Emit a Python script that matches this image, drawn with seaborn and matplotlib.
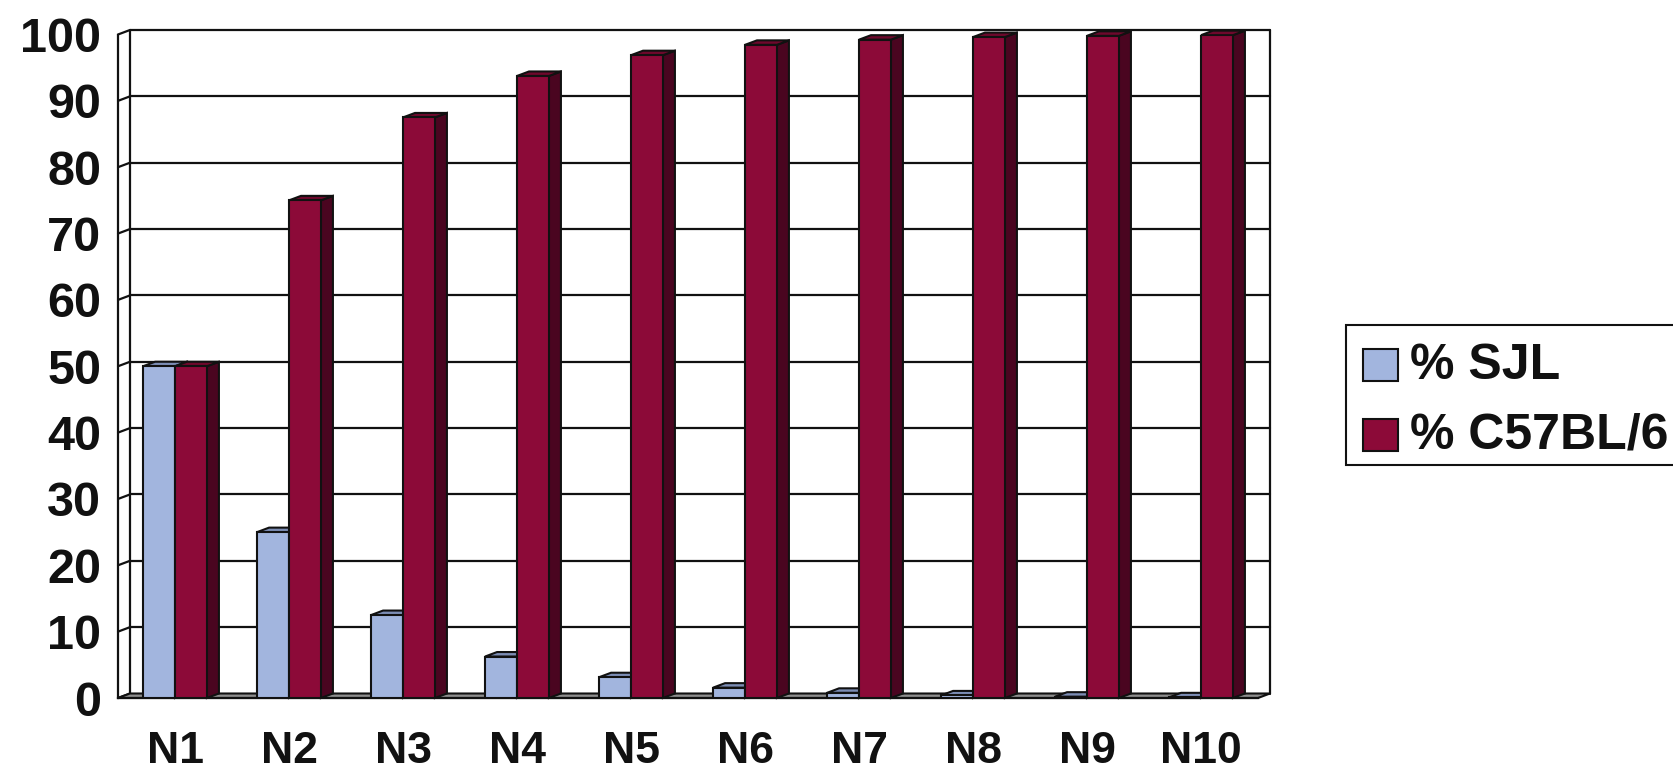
import numpy as np
import pandas as pd
import matplotlib
matplotlib.use("Agg")
import matplotlib.pyplot as plt
from matplotlib.patches import Polygon, Rectangle
import seaborn as sns

# ---- data ----
generations = ["N1", "N2", "N3", "N4", "N5", "N6", "N7", "N8", "N9", "N10"]
pct_sjl = [50, 25, 12.5, 6.25, 3.13, 1.56, 0.78, 0.39, 0.2, 0.1]
pct_c57 = [50, 75, 87.5, 93.75, 96.88, 98.44, 99.22, 99.61, 99.8, 99.9]
strains = ["% SJL", "% C57BL/6"]
y_ticks = [0, 10, 20, 30, 40, 50, 60, 70, 80, 90, 100]

front_cols = ["#A2B5DE", "#8C0A38"]
top_cols = ["#7C8DB5", "#6E082C"]
side_cols = ["#5E6E92", "#4A0520"]
EDGE = "#111111"

df = pd.DataFrame({
    "gen": generations * 2,
    "pct": pct_sjl + pct_c57,
    "strain": [strains[0]] * len(generations) + [strains[1]] * len(generations),
})

sns.set_style("white")
plt.rcParams["font.family"] = ["Liberation Sans", "DejaVu Sans"]
plt.rcParams["font.weight"] = "bold"

W, H = 1673, 770
fig = plt.figure(figsize=(W / 100, H / 100), dpi=100)
ax = fig.add_axes([118 / W, 1 - 698 / H, 1140 / W, (698 - 34.5) / H])
ax.set_facecolor("none")

sns.barplot(data=df, x="gen", y="pct", hue="strain", palette=front_cols,
            width=0.56, gap=0, saturation=1, edgecolor=EDGE, linewidth=1.5,
            legend=False, ax=ax, zorder=5, errorbar=None)

ax.set_xlim(-0.5, 9.5)
ax.set_ylim(0, 100)

# depth offset in data units
DX = 12 / 114
DY = 4.5 * 100 / 663.5

# floor
floor = Polygon([(-0.5, 0), (9.5, 0), (9.5 + DX, DY), (-0.5 + DX, DY)],
                closed=True, facecolor="#8E8E8E", edgecolor=EDGE, lw=1.5,
                zorder=2, clip_on=False)
ax.add_patch(floor)

# back wall gridlines and frame
for v in y_ticks[1:]:
    ax.plot([-0.5 + DX, 9.5 + DX], [v + DY, v + DY], color=EDGE, lw=1.6,
            zorder=1, clip_on=False)
ax.plot([-0.5 + DX, -0.5 + DX], [DY, 100 + DY], color=EDGE, lw=1.6, zorder=1, clip_on=False)
ax.plot([9.5 + DX, 9.5 + DX], [DY, 100 + DY], color=EDGE, lw=1.6, zorder=1, clip_on=False)
# left side wall connectors
for v in y_ticks:
    ax.plot([-0.5, -0.5 + DX], [v, v + DY], color=EDGE, lw=1.6, zorder=1, clip_on=False)

# 3-D faces for bars
for k, cont in enumerate(ax.containers):
    for bar in cont:
        x0 = bar.get_x()
        x1 = x0 + bar.get_width()
        y = bar.get_height()
        top = Polygon([(x0, y), (x1, y), (x1 + DX, y + DY), (x0 + DX, y + DY)],
                      closed=True, facecolor=top_cols[k], edgecolor=EDGE, lw=1.5,
                      zorder=4, clip_on=False)
        side = Polygon([(x1, 0), (x1 + DX, DY), (x1 + DX, y + DY), (x1, y)],
                       closed=True, facecolor=side_cols[k], edgecolor=EDGE, lw=1.5,
                       zorder=4 - 0.5 * (k == 0), clip_on=False)
        ax.add_patch(side)
        ax.add_patch(top)

# axes styling
for s in ["top", "right"]:
    ax.spines[s].set_visible(False)
ax.spines["left"].set_color(EDGE)
ax.spines["left"].set_linewidth(1.6)
ax.spines["bottom"].set_color(EDGE)
ax.spines["bottom"].set_linewidth(1.6)
ax.spines["left"].set_zorder(6)

ax.set_yticks(y_ticks)
ax.set_yticklabels([str(v) for v in y_ticks])
ax.tick_params(axis="y", direction="out", length=7.2, width=1.6, color=EDGE,
               labelsize=35, pad=5, labelcolor=EDGE)
ax.set_xticks(range(len(generations)))
ax.set_xticklabels(generations)
ax.set_xticks(np.arange(-0.5, len(generations), 1.0), minor=True)
ax.tick_params(axis="x", which="major", length=0, labelsize=32, pad=23.5, labelcolor=EDGE)
ax.tick_params(axis="x", which="minor", direction="out", length=7.5, width=1.6, color=EDGE)
for t in ax.get_xticklabels() + ax.get_yticklabels():
    t.set_fontweight("bold")
ax.set_xlabel("")
ax.set_ylabel("")
ax.grid(False)

# legend (manual, clipped at the right edge like the reference)
def fx(px):
    return px / W

def fy(py):
    return 1 - py / H

fig.patches.append(Rectangle((fx(1346), fy(465)), fx(1700) - fx(1346), fy(325) - fy(465),
                             transform=fig.transFigure, facecolor="white",
                             edgecolor=EDGE, lw=1.5))
rows = [(349, 381), (419, 451)]
for k, (ya, yb) in enumerate(rows):
    fig.patches.append(Rectangle((fx(1363), fy(yb)), fx(1398) - fx(1363), fy(ya) - fy(yb),
                                 transform=fig.transFigure, facecolor=front_cols[k],
                                 edgecolor=EDGE, lw=1.5))
    fig.text(fx(1410), fy((ya + yb) / 2 + 1), strains[k], fontsize=36, fontweight="bold",
             color=EDGE, va="center", ha="left")

fig.savefig("out.png", dpi=100)
